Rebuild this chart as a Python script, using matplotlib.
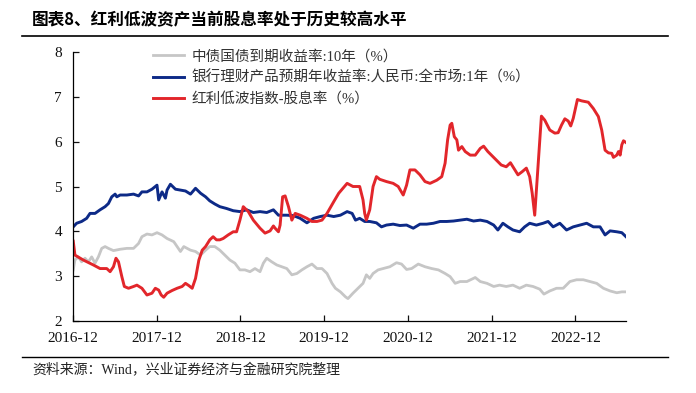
import matplotlib
matplotlib.use("Agg")
from matplotlib import pyplot as plt

plt.rcParams['font.family'] = ['Liberation Serif', 'Noto Sans CJK SC']

# x positions are decimal years (2016-12 ~ 2016.917)
bond_t = [2016.92, 2016.94, 2016.98, 2017.02, 2017.06, 2017.10, 2017.14, 2017.18, 2017.22, 2017.26,
          2017.30, 2017.34, 2017.40, 2017.48, 2017.56, 2017.64, 2017.70, 2017.74, 2017.80, 2017.86,
          2017.92, 2017.98, 2018.04, 2018.12, 2018.16, 2018.20, 2018.24, 2018.28, 2018.32, 2018.38,
          2018.44, 2018.50, 2018.55, 2018.61, 2018.67, 2018.73, 2018.79, 2018.85, 2018.91, 2018.97,
          2019.03, 2019.09, 2019.15, 2019.19, 2019.23, 2019.29, 2019.35, 2019.41, 2019.47, 2019.53,
          2019.59, 2019.65, 2019.71, 2019.77, 2019.83, 2019.89, 2019.95, 2020.01, 2020.05, 2020.11,
          2020.17, 2020.20, 2020.26, 2020.32, 2020.38, 2020.42, 2020.46, 2020.50, 2020.56, 2020.62,
          2020.70, 2020.78, 2020.84, 2020.90, 2020.96, 2021.04, 2021.12, 2021.20, 2021.28, 2021.36,
          2021.42, 2021.48, 2021.54, 2021.62, 2021.72, 2021.78, 2021.86, 2021.94, 2022.01, 2022.09,
          2022.17, 2022.25, 2022.33, 2022.41, 2022.49, 2022.54, 2022.61, 2022.69, 2022.77, 2022.85,
          2022.93, 2023.01, 2023.09, 2023.17, 2023.25, 2023.33, 2023.41, 2023.47, 2023.52]
bond_v = [3.14, 3.36, 3.43, 3.32, 3.40, 3.32, 3.43, 3.29, 3.43, 3.62,
          3.66, 3.62, 3.57, 3.60, 3.62, 3.62, 3.73, 3.88, 3.94, 3.92,
          3.97, 3.92, 3.84, 3.77, 3.66, 3.55, 3.66, 3.62, 3.58, 3.55,
          3.47, 3.58, 3.66, 3.66, 3.58, 3.47, 3.36, 3.29, 3.14, 3.14,
          3.10, 3.17, 3.10, 3.29, 3.40, 3.32, 3.25, 3.21, 3.17, 3.03,
          3.06, 3.14, 3.21, 3.27, 3.17, 3.17, 3.06, 2.84, 2.73, 2.65,
          2.54, 2.50, 2.62, 2.73, 2.84, 3.03, 2.95, 3.06, 3.14, 3.17,
          3.21, 3.30, 3.27, 3.15, 3.17, 3.27, 3.21, 3.17, 3.14, 3.06,
          2.99, 2.84, 2.88, 2.88, 2.97, 2.88, 2.84, 2.77, 2.80, 2.77,
          2.80, 2.73, 2.80, 2.77, 2.71, 2.60, 2.67, 2.73, 2.73, 2.88,
          2.92, 2.92, 2.88, 2.84, 2.73, 2.67, 2.63, 2.65, 2.65]

wm_t = [2016.92, 2016.96, 2017.02, 2017.08, 2017.12, 2017.18, 2017.24, 2017.30, 2017.34, 2017.38,
        2017.42, 2017.44, 2017.48, 2017.56, 2017.64, 2017.70, 2017.74, 2017.80, 2017.86, 2017.92,
        2017.94, 2017.98, 2018.02, 2018.04, 2018.08, 2018.14, 2018.20, 2018.26, 2018.32, 2018.38,
        2018.44, 2018.50, 2018.55, 2018.61, 2018.67, 2018.75, 2018.83, 2018.91, 2018.99, 2019.07,
        2019.15, 2019.23, 2019.31, 2019.37, 2019.47, 2019.55, 2019.63, 2019.71, 2019.79, 2019.87,
        2019.95, 2020.03, 2020.11, 2020.19, 2020.25, 2020.29, 2020.34, 2020.40, 2020.46, 2020.54,
        2020.60, 2020.66, 2020.74, 2020.82, 2020.90, 2020.98, 2021.06, 2021.14, 2021.22, 2021.30,
        2021.38, 2021.46, 2021.54, 2021.62, 2021.70, 2021.78, 2021.86, 2021.94, 2021.99, 2022.05,
        2022.11, 2022.17, 2022.25, 2022.31, 2022.37, 2022.45, 2022.53, 2022.59, 2022.65, 2022.73,
        2022.81, 2022.89, 2022.97, 2023.05, 2023.13, 2023.21, 2023.27, 2023.33, 2023.41, 2023.47,
        2023.52]
wm_v = [4.10, 4.18, 4.22, 4.29, 4.40, 4.40, 4.48, 4.55, 4.62, 4.77,
        4.83, 4.77, 4.81, 4.81, 4.83, 4.79, 4.88, 4.88, 4.94, 5.03,
        4.70, 4.88, 4.74, 4.92, 5.05, 4.94, 4.92, 4.90, 4.83, 4.96,
        4.85, 4.77, 4.68, 4.61, 4.55, 4.51, 4.46, 4.44, 4.48, 4.42,
        4.44, 4.42, 4.48, 4.36, 4.36, 4.35, 4.29, 4.19, 4.29, 4.33,
        4.36, 4.33, 4.36, 4.44, 4.40, 4.25, 4.29, 4.22, 4.22, 4.19,
        4.10, 4.14, 4.16, 4.13, 4.14, 4.07, 4.16, 4.16, 4.18, 4.22,
        4.22, 4.23, 4.25, 4.27, 4.23, 4.25, 4.22, 4.14, 4.03, 4.18,
        4.10, 4.03, 3.99, 4.10, 4.18, 4.14, 4.18, 4.22, 4.10, 4.18,
        4.03, 4.10, 4.14, 4.18, 4.10, 4.10, 3.92, 4.01, 3.99, 3.97,
        3.88]

div_t = [2016.92, 2016.94, 2017.04, 2017.16, 2017.24, 2017.32, 2017.36, 2017.40, 2017.43, 2017.46,
         2017.50, 2017.53, 2017.58, 2017.64, 2017.68, 2017.74, 2017.80, 2017.86, 2017.90, 2017.94,
         2017.97, 2018.00, 2018.04, 2018.10, 2018.16, 2018.22, 2018.26, 2018.30, 2018.34, 2018.38,
         2018.42, 2018.46, 2018.50, 2018.55, 2018.59, 2018.63, 2018.67, 2018.71, 2018.77, 2018.83,
         2018.87, 2018.91, 2018.95, 2019.01, 2019.07, 2019.15, 2019.21, 2019.27, 2019.31, 2019.33,
         2019.37, 2019.39, 2019.42, 2019.45, 2019.49, 2019.53, 2019.57, 2019.63, 2019.71, 2019.77,
         2019.83, 2019.89, 2019.95, 2020.03, 2020.09, 2020.19, 2020.26, 2020.34, 2020.38, 2020.40,
         2020.42, 2020.46, 2020.50, 2020.54, 2020.58, 2020.66, 2020.74, 2020.80, 2020.86, 2020.90,
         2020.94, 2021.00, 2021.06, 2021.12, 2021.18, 2021.26, 2021.32, 2021.36, 2021.39, 2021.42,
         2021.44, 2021.47, 2021.50, 2021.52, 2021.56, 2021.60, 2021.66, 2021.72, 2021.78, 2021.82,
         2021.87, 2021.95, 2022.03, 2022.09, 2022.14, 2022.17, 2022.23, 2022.28, 2022.33, 2022.37,
         2022.40, 2022.43, 2022.51, 2022.55, 2022.61, 2022.67, 2022.71, 2022.75, 2022.79, 2022.83,
         2022.86, 2022.89, 2022.94, 2022.99, 2023.07, 2023.13, 2023.19, 2023.23, 2023.27, 2023.31,
         2023.35, 2023.37, 2023.41, 2023.43, 2023.45, 2023.47, 2023.49, 2023.52]
div_v = [3.78, 3.47, 3.36, 3.25, 3.17, 3.17, 3.10, 3.21, 3.40, 3.32,
         2.99, 2.77, 2.73, 2.77, 2.80, 2.73, 2.58, 2.62, 2.73, 2.69,
         2.58, 2.53, 2.62, 2.68, 2.73, 2.77, 2.84, 2.79, 2.73, 2.95,
         3.36, 3.58, 3.66, 3.81, 3.88, 3.81, 3.81, 3.84, 3.92, 3.99,
         3.99, 4.25, 4.55, 4.44, 4.25, 4.07, 3.96, 4.01, 4.12, 4.07,
         3.99, 4.14, 4.77, 4.79, 4.55, 4.25, 4.40, 4.36, 4.29, 4.22,
         4.22, 4.25, 4.40, 4.66, 4.85, 5.07, 5.00, 5.00, 4.70, 4.40,
         4.25, 4.48, 5.00, 5.22, 5.16, 5.11, 5.07, 5.00, 4.81, 5.03,
         5.37, 5.37, 5.26, 5.11, 5.07, 5.14, 5.22, 5.52, 6.04, 6.37,
         6.41, 6.11, 6.04, 5.81, 5.89, 5.78, 5.70, 5.70, 5.85, 5.90,
         5.78, 5.63, 5.48, 5.44, 5.53, 5.44, 5.26, 5.33, 5.41, 5.22,
         4.85, 4.36, 6.57, 6.48, 6.26, 6.19, 6.20, 6.37, 6.51, 6.46,
         6.35, 6.52, 6.94, 6.91, 6.88, 6.74, 6.56, 6.26, 5.81, 5.75,
         5.74, 5.65, 5.70, 5.78, 5.70, 5.93, 6.02, 5.98]

labels = ['中债国债到期收益率:10年（%）',
          '银行理财产品预期年收益率:人民币:全市场:1年（%）',
          '红利低波指数-股息率（%）']
tick_pos = [2016.917, 2017.917, 2018.917, 2019.917, 2020.917, 2021.917, 2022.917]
tick_lbl = ['2016-12', '2017-12', '2018-12', '2019-12', '2020-12', '2021-12', '2022-12']

fig = plt.figure(figsize=(6.96, 3.93), dpi=100)
ax = fig.add_axes([73 / 696, 1 - 321 / 393, 553 / 696, 269 / 393])

ax.plot(bond_t, bond_v, color='#c6c6c6', lw=2.0, label=labels[0])
ax.plot(wm_t, wm_v, color='#0d2a87', lw=2.1, label=labels[1])
ax.plot(div_t, div_v, color='#e2262b', lw=2.1, label=labels[2])

ax.set_xlim(2016.917, 2023.52)
ax.set_ylim(2, 8)
ax.set_xticks(tick_pos)
ax.set_xticklabels(tick_lbl)
ax.set_yticks(range(2, 9))
for s in ['top', 'right']:
    ax.spines[s].set_visible(False)
for s in ['left', 'bottom']:
    ax.spines[s].set_linewidth(0.9)
ax.tick_params(direction='in', length=4.5, width=0.9, labelsize=11, pad=8, colors='#111111')

ax.legend(loc='upper left', bbox_to_anchor=(0.145, 1.01), frameon=False, fontsize=10.5,
          handlelength=2.1, handletextpad=0.55, labelspacing=0.5, borderpad=0, borderaxespad=0,
          labelcolor='#333333')

# title, rules and source note
fig.text(32 / 696, 1 - 20 / 393, '图表8、红利低波资产当前股息率处于历史较高水平', fontsize=12,
         fontweight='bold', va='center', ha='left', family=['Noto Sans CJK SC'])
fig.add_artist(plt.Line2D([22 / 696, 668 / 696], [1 - 36 / 393, 1 - 36 / 393], color='black', lw=1.2))
fig.add_artist(plt.Line2D([22 / 696, 668 / 696], [1 - 357 / 393, 1 - 357 / 393], color='black', lw=1.0))
fig.text(32 / 696, 1 - 370 / 393, '资料来源：Wind，兴业证券经济与金融研究院整理', fontsize=10,
         va='center', ha='left', color='#222222')

fig.savefig('out.png', dpi=100)
